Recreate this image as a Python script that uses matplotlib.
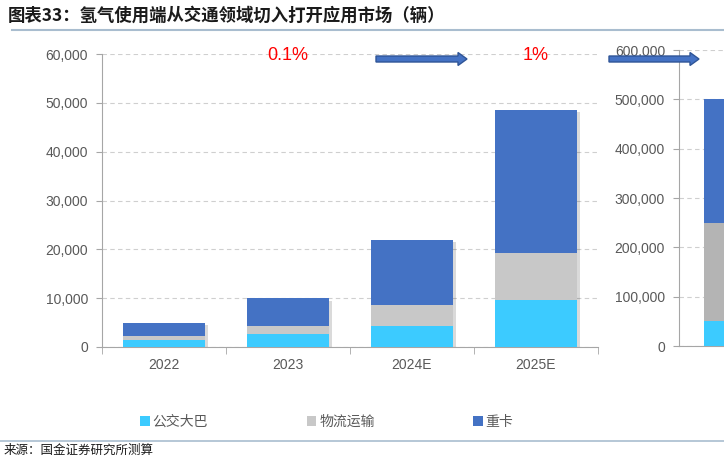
import matplotlib
matplotlib.use("Agg")
import matplotlib.pyplot as plt
import matplotlib.patheffects as pe
from matplotlib.patches import FancyArrow, Patch
from matplotlib.lines import Line2D
from matplotlib.ticker import FuncFormatter
import numpy as np

plt.rcParams['font.family'] = ['Liberation Sans', 'Noto Sans CJK SC', 'DejaVu Sans']

categories = ['2022', '2023', '2024E', '2025E']
bus = [1500, 2700, 4300, 9600]
logistics = [700, 1700, 4400, 9700]
heavy = [2800, 5600, 13300, 29300]

categories_right = ['2030E']
bus_right = [50000]
logistics_right = [200000]
heavy_right = [250000]

series_names = ['公交大巴', '物流运输', '重卡']
colors = ['#3CCBFF', '#C8C8C8', '#4472C4']
colors_right = ['#3CCBFF', '#B4B4B4', '#4472C4']
ratio_labels = ['0.1%', '1%']

title = '图表33：氢气使用端从交通领域切入打开应用市场（辆）'
source = '来源：国金证券研究所测算'

W, H = 724, 459
fig = plt.figure(figsize=(W / 100, H / 100), dpi=100)

def fx(px):
    return px / W

def fy(py):
    return 1 - py / H

tick_color = '#595959'
spine_color = '#A6A6A6'

def add_shadow(bars):
    for p in bars:
        p.set_path_effects([pe.SimplePatchShadow(offset=(2, -2), alpha=0.18, shadow_rgbFace='#333333')])

def style_axes(ax, ylim, yticks):
    ax.set_ylim(*ylim)
    ax.set_yticks(yticks)
    ax.yaxis.set_major_formatter(FuncFormatter(lambda v, p: f'{int(v):,}'))
    for s in ['top', 'right']:
        ax.spines[s].set_visible(False)
    ax.spines['left'].set_color(spine_color)
    ax.spines['bottom'].set_color(spine_color)
    ax.tick_params(axis='y', colors=spine_color, labelcolor=tick_color, labelsize=10, length=4, pad=6)
    ax.grid(axis='y', color='#CFCFCF', linestyle=(0, (4, 3)), linewidth=0.8)
    ax.set_axisbelow(True)

# Left axes
ax = fig.add_axes([fx(102), fy(347), fx(598) - fx(102), fy(54) - fy(347)])
x = np.arange(len(categories))
bw = 0.66
bottoms = np.zeros(len(categories))
for vals, c in zip([bus, logistics, heavy], colors):
    ax.bar(x, vals, bw, bottom=bottoms, color=c, zorder=3)
    bottoms += np.array(vals)
add_shadow(ax.bar(x, bottoms, bw, color='none', zorder=2))
ax.set_xlim(-0.5, len(categories) - 0.5)
ax.set_xticks(x)
ax.set_xticklabels(categories)
ax.set_xticks(np.arange(-0.5, len(categories)), minor=True)
ax.tick_params(axis='x', which='major', length=0, labelsize=10, labelcolor=tick_color, pad=8)
ax.tick_params(axis='x', which='minor', length=5, color=spine_color)
style_axes(ax, (0, 60000), np.arange(0, 60001, 10000))

# Right axes (extends beyond figure; its category label falls off the picture)
ax2 = fig.add_axes([fx(679), fy(346), fx(147), fy(50) - fy(346)])
x2 = np.arange(len(categories_right))
b2 = np.zeros(len(categories_right))
for vals, c in zip([bus_right, logistics_right, heavy_right], colors_right):
    ax2.bar(x2, vals, bw, bottom=b2, color=c, zorder=3)
    b2 += np.array(vals)
add_shadow(ax2.bar(x2, b2, bw, color='none', zorder=2))
ax2.set_xlim(-0.5, 0.5)
ax2.set_xticks(x2)
ax2.set_xticklabels([''] * len(categories_right))
ax2.tick_params(axis='x', length=0)
style_axes(ax2, (0, 600000), np.arange(0, 600001, 100000))

# Ratio labels and arrows
fig.text(fx(288), fy(56), ratio_labels[0], color='#FF0000', fontsize=13, ha='center', va='center')
fig.text(fx(536), fy(56), ratio_labels[1], color='#FF0000', fontsize=13, ha='center', va='center')
for x0, x1 in [(376, 467), (609, 699)]:
    arr = FancyArrow(fx(x0), fy(59), fx(x1 - x0), 0, width=6 / H, head_width=13 / H,
                     head_length=fx(9), length_includes_head=True,
                     transform=fig.transFigure, facecolor='#4472C4', edgecolor='#2F5597',
                     linewidth=1, zorder=10)
    fig.add_artist(arr)

# Title and source
fig.text(fx(8), fy(16), title, fontsize=12.5, fontweight='bold', style='italic',
         family=['Noto Sans CJK SC', 'DejaVu Sans'], color='#1a1a1a', ha='left', va='center')
fig.add_artist(Line2D([fx(12), 1], [fy(30), fy(30)], color='#A9BDCF', linewidth=1.5, transform=fig.transFigure))
fig.add_artist(Line2D([0, 1], [fy(441), fy(441)], color='#A9BDCF', linewidth=1.2, transform=fig.transFigure))
fig.text(fx(4), fy(450), source, fontsize=9, family=['Noto Sans CJK SC', 'DejaVu Sans'],
         color='#1a1a1a', ha='left', va='center')

# Legend
handles = [Patch(facecolor=c, edgecolor='none') for c in colors]
leg = fig.legend(handles, series_names, loc='center left', bbox_to_anchor=(fx(140), fy(422)),
                 ncol=3, frameon=False, handlelength=0.7, handleheight=0.7,
                 handletextpad=0.2, columnspacing=7.1, borderpad=0, borderaxespad=0,
                 prop={'family': ['Noto Sans CJK SC', 'DejaVu Sans'], 'size': 10})
for t in leg.get_texts():
    t.set_color(tick_color)

fig.savefig('out.png', dpi=100)
